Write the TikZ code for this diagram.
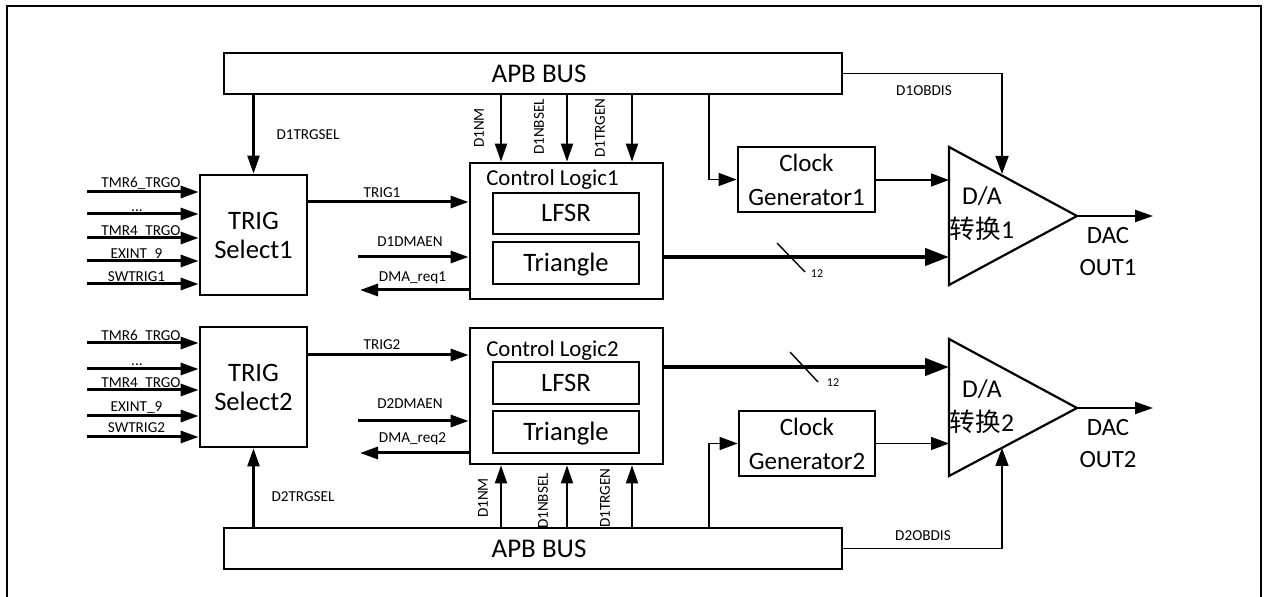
\documentclass[tikz,border=0pt]{standalone}
\usepackage{fontspec}
\setmainfont{Carlito}
\newfontfamily\cjk{Noto Sans CJK SC}
\usetikzlibrary{arrows.meta,calc}
\newcommand\myfs[2]{\fontsize{#1}{#2}\selectfont}
\newcommand\mydots{...}
\begin{document}
\begin{tikzpicture}[x=0.5pt,y=-0.5pt,
  box/.style={draw,line width=1.4pt,inner sep=0pt,align=center},
  bigtxt/.style={font=\myfs{13.3}{14.5},inner sep=0pt,align=center},
  sm/.style={font=\myfs{7.6}{9},inner sep=0pt,anchor=base},
  vsm/.style={font=\myfs{7.6}{9},inner sep=0pt,rotate=90},
  arr/.style={line width=1.5pt,-{Triangle[length=9pt,width=6pt]}},
  varr/.style={line width=1pt,-{Triangle[length=9pt,width=6pt]}},
  tarr/.style={line width=0.75pt,-{Triangle[length=9pt,width=6.5pt]}},
  busarr/.style={line width=2.2pt,-{Triangle[length=12pt,width=8.5pt]}},
  tri/.style={line width=1.1pt,line join=miter}]
\useasboundingbox (0,0) rectangle (1268,597);
% outer frame
\draw[line width=1.2pt] (7,600) -- (7,6) -- (1261,6) -- (1261,600);

% ===== buses =====
\node[box,minimum width=309pt,minimum height=20.5pt] (bus1) at (533,73.5) {};
\node[bigtxt,font=\myfs{13.5}{15},text height=8.7pt,text depth=0pt] (bus1t) at (539,73.5) {APB BUS};
\node[box,minimum width=309pt,minimum height=20.5pt] (bus2) at (533,548.5) {};
\node[bigtxt,font=\myfs{13.5}{15},text height=8.7pt,text depth=0pt] (bus2t) at (539,548.5) {APB BUS};

% ===== TRIG select =====
\node[box,bigtxt,draw,line width=1.4pt,minimum width=53.5pt,minimum height=60pt] (sel1) at (253.5,235) {TRIG\\Select1};
\node[box,bigtxt,draw,line width=1.4pt,minimum width=53.5pt,minimum height=60pt] (sel2) at (253.5,387) {TRIG\\Select2};

% ===== control logic =====
\node[box,minimum width=96.5pt,minimum height=68pt] (cl1) at (566.5,231) {};
\node[font=\myfs{11.4}{13},inner sep=0pt,anchor=base] (cl1t) at (552.5,186) {Control Logic1};
\node[box,bigtxt,draw,line width=1.4pt,minimum width=73pt,minimum height=20.5pt,text height=8.5pt,text depth=0pt] (lf1) at (566,213.5) {LFSR};
\node[box,bigtxt,draw,line width=1.4pt,minimum width=73pt,minimum height=21pt,text height=8.5pt,text depth=0pt] (tr1) at (566,263) {Triangle};

\node[box,minimum width=96.5pt,minimum height=68pt] (cl2) at (566.5,396) {};
\node[font=\myfs{11.4}{13},inner sep=0pt,anchor=base] (cl2t) at (552.5,357) {Control Logic2};
\node[box,bigtxt,draw,line width=1.4pt,minimum width=73pt,minimum height=21pt,text height=8.5pt,text depth=0pt] (lf2) at (566,383) {LFSR};
\node[box,bigtxt,draw,line width=1.4pt,minimum width=73pt,minimum height=21pt,text height=8.5pt,text depth=0pt] (tr2) at (566,432) {Triangle};

% ===== clock generators =====
\node[box,font=\myfs{12.5}{17},minimum width=68.5pt,minimum height=32.5pt] (clk1) at (806.5,179.5) {Clock\\Generator1};
\node[box,font=\myfs{12.5}{17},minimum width=68pt,minimum height=32.5pt] (clk2) at (807,443.5) {Clock\\Generator2};

% ===== D/A triangles =====
\coordinate (t1a) at (949,147); \coordinate (t1b) at (949,285); \coordinate (t1c) at (1077,216);
\draw[tri] (t1a) -- (t1c) -- (t1b) -- cycle;
\node[font=\myfs{12.8}{17},inner sep=0pt,align=center] (da1) at (982,214) {D/A\\{\cjk 转换}1};
\coordinate (t2a) at (949,339); \coordinate (t2b) at (949,476); \coordinate (t2c) at (1077,408);
\draw[tri] (t2a) -- (t2c) -- (t2b) -- cycle;
\node[font=\myfs{12.8}{17},inner sep=0pt,align=center] (da2) at (982,407) {D/A\\{\cjk 转换}2};

\node[font=\myfs{12.4}{16},inner sep=0pt,align=center] (out1t) at (1108,252) {DAC\\OUT1};
\node[font=\myfs{12.4}{16},inner sep=0pt,align=center] (out2t) at (1108,444) {DAC\\OUT2};
\coordinate (out1) at (1153,216);
\coordinate (out2) at (1153,408);
\draw[varr] (t1c) -- (out1);
\draw[varr] (t2c) -- (out2);

% ===== inputs to TRIG select 1 =====
\foreach \yy/\lab/\lx/\ly in {192/TMR6\_TRGO/141/188, 214/\mydots/137/212, 238/TMR4\_TRGO/141/236, 261/EXINT\_9/136.5/259, 284/SWTRIG1/136.5/282}{
  \coordinate (in1s) at (87,\yy);
  \draw[arr] (in1s) -- (in1s -| sel1.west);
  \node[sm] at (\lx,\ly) {\lab};
}
\foreach \yy/\lab/\lx/\ly in {343/TMR6\_TRGO/141/341, 369/\mydots/137/366, 390/TMR4\_TRGO/141/388, 416/EXINT\_9/136.5/412, 437/SWTRIG2/136.5/433}{
  \coordinate (in2s) at (87,\yy);
  \draw[arr] (in2s) -- (in2s -| sel2.west);
  \node[sm] at (\lx,\ly) {\lab};
}

% ===== trigger select lines =====
\draw[line width=1.3pt,-{Triangle[length=9pt,width=6pt]}] (bus1.south -| sel1.north) -- (sel1.north);
\node[sm] (lt1) at (308,140) {D1TRGSEL};
\draw[line width=1.3pt,-{Triangle[length=9pt,width=6pt]}] (bus2.north -| sel2.south) -- (sel2.south);
\node[sm] (lt2) at (303,502) {D2TRGSEL};

% ===== TRIG / DMA =====
\coordinate (tg1) at (0,202);
\draw[arr] (sel1.east |- tg1) -- (cl1.west |- tg1);
\node[sm] at (382,198) {TRIG1};
\coordinate (de1) at (358,257);
\draw[arr] (de1) -- (cl1.west |- de1);
\node[sm] at (410,247) {D1DMAEN};
\coordinate (dr1) at (360,290);
\draw[arr] (cl1.west |- dr1) -- (dr1);
\node[sm] at (412.5,282) {DMA\_req1};

\coordinate (tg2) at (0,355);
\draw[arr] (sel2.east |- tg2) -- (cl2.west |- tg2);
\node[sm] at (382,350) {TRIG2};
\coordinate (de2) at (358,421);
\draw[arr] (de2) -- (cl2.west |- de2);
\node[sm] at (410,409) {D2DMAEN};
\coordinate (dr2) at (360,453);
\draw[arr] (cl2.west |- dr2) -- (dr2);
\node[sm] at (412.5,443) {DMA\_req2};

% ===== register bits to control logic =====
\foreach \xx in {501,567,632}{
  \coordinate (vx) at (\xx,0);
  \draw[varr] (bus1.south -| vx) -- (cl1.north -| vx);
  \draw[varr] (bus2.north -| vx) -- (cl2.south -| vx);
}
\node[vsm] at (479,128) {D1NM};
\node[vsm] at (539,127) {D1NBSEL};
\node[vsm] at (600,128) {D1TRGEN};
\node[vsm] at (483,498) {D1NM};
\node[vsm] at (543,501) {D1NBSEL};
\node[vsm] at (605,498) {D1TRGEN};

% ===== clocks =====
\coordinate (ck1) at (709,0);
\draw[tarr] (bus1.south -| ck1) |- (clk1.west);
\coordinate (t1clk) at (949,180);
\draw[tarr] (clk1.east |- t1clk) -- (t1clk);
\coordinate (ck2) at (709,0);
\draw[tarr] (bus2.north -| ck2) |- (clk2.west);
\coordinate (t2clk) at (949,443.5);
\draw[tarr] (clk2.east |- t2clk) -- (t2clk);

% ===== output buffer disable =====
\coordinate (t1ob) at (1002,174);
\draw[tarr] (bus1.east) -| (t1ob);
\node[sm] at (924,96) {D1OBDIS};
\coordinate (t2ob) at (1002,448);
\draw[tarr] (bus2.east) -| (t2ob);
\node[sm] at (923,541) {D2OBDIS};

% ===== 12-bit data =====
\coordinate (t1dat) at (949,257);
\draw[busarr] (cl1.east |- t1dat) -- (t1dat);
\draw[line width=0.7pt] (777,243) -- (805,272);
\node[font=\myfs{6}{7},inner sep=0pt,anchor=base] at (817,278) {12};
\coordinate (t2dat) at (949,367);
\draw[busarr] (cl2.east |- t2dat) -- (t2dat);
\draw[line width=0.7pt] (790,352) -- (818,382);
\node[font=\myfs{6}{7},inner sep=0pt,anchor=base] at (833,387) {12};
\end{tikzpicture}
\end{document}
